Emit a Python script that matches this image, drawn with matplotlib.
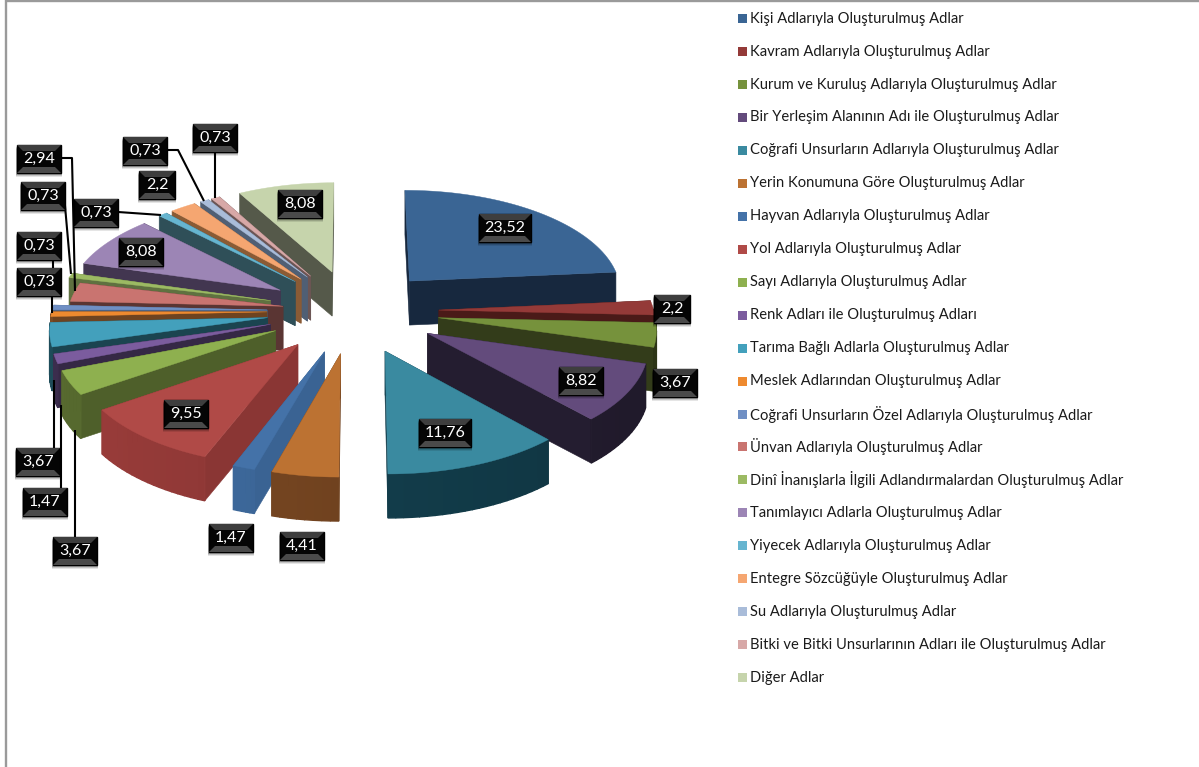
import numpy as np
import matplotlib
matplotlib.use("Agg")
import matplotlib.pyplot as plt
from matplotlib.patches import Polygon, Rectangle
from matplotlib.colors import to_rgb

categories = [
    "Kişi Adlarıyla Oluşturulmuş Adlar",
    "Kavram Adlarıyla Oluşturulmuş Adlar",
    "Kurum ve Kuruluş Adlarıyla Oluşturulmuş Adlar",
    "Bir Yerleşim Alanının Adı ile Oluşturulmuş Adlar",
    "Coğrafi Unsurların Adlarıyla Oluşturulmuş Adlar",
    "Yerin Konumuna Göre Oluşturulmuş Adlar",
    "Hayvan Adlarıyla Oluşturulmuş Adlar",
    "Yol Adlarıyla Oluşturulmuş Adlar",
    "Sayı Adlarıyla Oluşturulmuş Adlar",
    "Renk Adları ile Oluşturulmuş Adları",
    "Tarıma Bağlı Adlarla Oluşturulmuş Adlar",
    "Meslek Adlarından Oluşturulmuş Adlar",
    "Coğrafi Unsurların Özel Adlarıyla Oluşturulmuş Adlar",
    "Ünvan Adlarıyla Oluşturulmuş Adlar",
    "Dinî İnanışlarla İlgili Adlandırmalardan Oluşturulmuş Adlar",
    "Tanımlayıcı Adlarla Oluşturulmuş Adlar",
    "Yiyecek Adlarıyla Oluşturulmuş Adlar",
    "Entegre Sözcüğüyle Oluşturulmuş Adlar",
    "Su Adlarıyla Oluşturulmuş Adlar",
    "Bitki ve Bitki Unsurlarının Adları ile Oluşturulmuş Adlar",
    "Diğer Adlar",
]
values = [23.52, 2.2, 3.67, 8.82, 11.76, 4.41, 1.47, 9.55, 3.67, 1.47, 3.67,
          0.73, 0.73, 2.94, 0.73, 8.08, 0.73, 2.2, 0.73, 0.73, 8.08]

top_colors = ["#3A6594", "#943A38", "#76923C", "#634B7C", "#3A8AA0", "#BC7232", "#4472A8",
              "#B04A47", "#8EB04F", "#7B5C9E", "#43A0BC", "#EE8A2F", "#6F8FC4", "#C97470",
              "#9CBA63", "#9C85B5", "#66B5D0", "#F5A671", "#A9BCD9", "#D7A8A7", "#C6D4AC"]
wall_colors = ["#17283E", "#4A1A18", "#333C1A", "#241D30", "#123C4A", "#70421F", "#3A6393",
               "#8A3634", "#4E5F2A", "#352845", "#1B4450", "#6E4320", "#4A5F80", "#5A3533",
               "#5F7140", "#423650", "#2F4F58", "#8A5B35", "#505F74", "#6C5554", "#55594A"]

# projection of the 3D pie (pixels)
CX, CY, F0, B, K, H = 353, 311, 215, 104, 0.09, 44
EXPL = 0.40
EXPL_OVERRIDE = {13: 0.33}

fig = plt.figure(figsize=(11.99, 7.67), dpi=100)
ax = fig.add_axes([0, 0, 1, 1])
ax.set_xlim(0, 1199)
ax.set_ylim(767, 0)
ax.axis("off")

# frame
ax.plot([5.8, 5.8, 1199], [767, 0.8, 0.8], color="#9A9A9A", lw=1.7, zorder=1,
        solid_joinstyle="miter")


def project(X, Y, down=0.0):
    w = 1 - K * Y
    return CX + F0 * X / w, CY + B * Y / w + down


def shade(c, f):
    return tuple(min(1, v * f) for v in to_rgb(c))


fr = np.array(values) / sum(values)
ends = np.cumsum(fr) * 2 * np.pi
starts = ends - fr * 2 * np.pi
mids = (starts + ends) / 2
z = 10
for i in np.argsort(-np.cos(mids)):
    a0, a1, am = starts[i], ends[i], mids[i]
    e = EXPL_OVERRIDE.get(int(i), EXPL)
    ox, oy = e * np.sin(am), -e * np.cos(am)
    n = max(6, int((a1 - a0) / 0.03))
    th = np.linspace(a0, a1, n)
    xw = ox + np.sin(th)
    yw = oy - np.cos(th)
    tx, ty = project(xw, yw)
    bx, by = project(xw, yw, H)
    ax_, ay_ = project(ox, oy)
    cx_, cy_ = project(ox, oy, H)
    top = np.column_stack([np.r_[ax_, tx], np.r_[ay_, ty]])
    for k in (0, n - 1):
        wall = [(ax_, ay_), (tx[k], ty[k]), (bx[k], by[k]), (cx_, cy_)]
        ax.add_patch(Polygon(wall, fc=wall_colors[i], ec=wall_colors[i], lw=0.4, zorder=z))
    for k in range(n - 1):
        tm = (th[k] + th[k + 1]) / 2
        if np.cos(tm) > 0:  # outer wall faces away from the viewer
            continue
        seg = [(tx[k], ty[k]), (tx[k + 1], ty[k + 1]), (bx[k + 1], by[k + 1]), (bx[k], by[k])]
        f = 1.0 + 0.12 * np.sin(tm - np.pi)
        col = shade(wall_colors[i], f)
        ax.add_patch(Polygon(seg, fc=col, ec=col, lw=1.0, zorder=z))
    ax.add_patch(Polygon(top, fc=top_colors[i], ec=top_colors[i], lw=0.3, zorder=z + 0.5))
    z += 1

# data-label layout: centre of each box, and leader line if any
label_centres = [(505, 228), (672, 309), (675, 383), (581, 381), (445, 433), (302, 546),
                 (231, 538), (186, 414), (75, 551), (45, 502), (38, 462), (39, 282),
                 (39, 246), (39, 159), (43, 196), (141, 252), (96, 213), (157, 185),
                 (145, 151), (215, 138), (300, 204)]
leaders = {
    8: [(75, 430), (75, 537)],
    9: [(61, 405), (61, 488)],
    10: [(54, 380), (54, 449)],
    11: [(52, 296), (52, 313)],
    12: [(53, 259), (53, 270)],
    13: [(60, 158), (72, 158), (75, 291)],
    14: [(63, 183), (71, 274)],
    16: [(118, 212), (161, 215)],
    18: [(166, 150), (178, 150), (204, 201)],
    19: [(215, 152), (215, 198)],
}
for pts in leaders.values():
    p = np.array(pts)
    ax.plot(p[:, 0], p[:, 1], color="black", lw=1.5, zorder=60, solid_capstyle="butt")


def label_box(xc, yc, text):
    w = 44 if len(text) > 3 else 36
    if len(text) > 4:
        w = 52
    h = 28
    x0, y0 = xc - w / 2, yc - h / 2
    x1, y1 = x0 + w, y0 + h
    for d, a in ((4, 0.10), (3, 0.14), (2, 0.18)):
        ax.add_patch(Rectangle((x0 - 1, y0 + d), w + 2, h, fc="black", ec="none", alpha=a, zorder=62))
    ax.add_patch(Rectangle((x0, y0), w, h, fc="#050505", ec="black", lw=1, zorder=63))
    ins = 6
    ax.add_patch(Polygon([(x0, y0), (x1, y0), (x1 - ins, y0 + ins), (x0 + ins, y0 + ins)],
                         fc="#3E3E3E", ec="none", zorder=64))
    ax.add_patch(Polygon([(x0, y1), (x1, y1), (x1 - ins, y1 - ins), (x0 + ins, y1 - ins)],
                         fc="#4A4A4A", ec="none", zorder=64))
    ax.text(xc, yc, text, color="white", family="Lato", fontsize=11.5,
            ha="center", va="center", zorder=65)


for (xc, yc), v in zip(label_centres, values):
    label_box(xc, yc, f"{v:g}".replace(".", ","))

# legend
for i, (c, name) in enumerate(zip(top_colors, categories)):
    y = 18.6 + i * 32.95
    ax.add_patch(Rectangle((738, y - 4.5), 9, 9, fc=c, ec="none", zorder=5))
    ax.text(750, y, name, family="Lato", fontsize=10.6, color="#1A1A1A",
            ha="left", va="center", zorder=5)

fig.savefig("out.png", dpi=100)
